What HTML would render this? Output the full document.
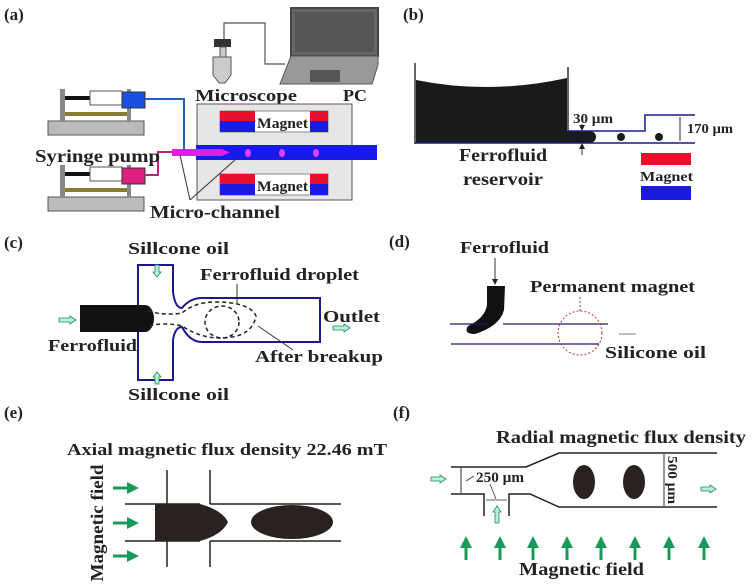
<!DOCTYPE html>
<html><head><meta charset="utf-8"><style>
html,body{margin:0;padding:0;background:#fff}
svg{display:block}
text{font-family:"Liberation Serif",serif;fill:#222;font-weight:bold}
</style></head><body>
<svg width="752" height="588" viewBox="0 0 752 588" xmlns="http://www.w3.org/2000/svg">
<defs>
<marker id="ah" markerWidth="6" markerHeight="6" refX="5" refY="3" orient="auto"><path d="M0,0 L6,3 L0,6z" fill="#222"/></marker>
<marker id="gh" markerWidth="4" markerHeight="4" refX="2" refY="2" orient="auto"><path d="M0,0 L4,2 L0,4z" fill="#1a9a5a"/></marker>
</defs>
<!-- (a) -->
<text x="4" y="20" font-size="17">(a)</text>
<rect x="291" y="8" width="87" height="48" fill="#666" stroke="#444" stroke-width="2"/>
<rect x="295" y="12" width="79" height="40" fill="#555"/>
<path d="M291,56 L378,56 L378,65 L372,84 L280,84 Z" fill="#999" stroke="#555"/>
<rect x="310" y="70" width="30" height="12" fill="#555"/>
<rect x="214" y="39" width="17" height="8" fill="#333"/>
<rect x="220" y="47" width="6" height="10" fill="#ccc" stroke="#555"/>
<path d="M213,57 L231,57 L231,75 L225,83 L219,83 L213,75Z" fill="#ccc" stroke="#555"/>
<polyline points="224,39 224,23 265,23 265,64 285,64" fill="none" stroke="#555" stroke-width="1.2"/>
<text x="195" y="101" font-size="17" textLength="102" lengthAdjust="spacingAndGlyphs">Microscope</text>
<text x="343" y="101" font-size="17" textLength="24" lengthAdjust="spacingAndGlyphs">PC</text>
<rect x="197" y="104" width="155" height="96" fill="#e6e6e6" stroke="#555"/>
<rect x="220" y="111" width="108" height="21" fill="#fff" stroke="#888"/>
<rect x="220" y="111" width="35" height="10" fill="#e8102a"/><rect x="220" y="121" width="35" height="11" fill="#1a1ae0"/>
<rect x="310" y="111" width="18" height="10" fill="#e8102a"/><rect x="310" y="121" width="18" height="11" fill="#1a1ae0"/>
<text x="257" y="128" font-size="15" textLength="51" lengthAdjust="spacingAndGlyphs">Magnet</text>
<rect x="220" y="174" width="108" height="21" fill="#fff" stroke="#888"/>
<rect x="220" y="174" width="35" height="10" fill="#e8102a"/><rect x="220" y="184" width="35" height="11" fill="#1a1ae0"/>
<rect x="310" y="174" width="18" height="10" fill="#e8102a"/><rect x="310" y="184" width="18" height="11" fill="#1a1ae0"/>
<text x="257" y="191" font-size="15" textLength="51" lengthAdjust="spacingAndGlyphs">Magnet</text>
<rect x="196" y="145" width="181" height="15" fill="#1a1ae8"/>
<ellipse cx="248" cy="153" rx="3" ry="4" fill="#e040ff"/><ellipse cx="282" cy="153" rx="3" ry="4" fill="#e040ff"/><ellipse cx="316" cy="153" rx="3" ry="4" fill="#e040ff"/>
<path d="M172,149 L222,149 L230,152.5 L222,156 L172,156Z" fill="#e020e0"/>
<g>
<rect x="48" y="121" width="96" height="14" fill="#bbb" stroke="#555"/>
<rect x="60" y="89" width="5" height="32" fill="#888"/><rect x="127" y="89" width="4" height="32" fill="#888"/>
<rect x="65" y="112" width="62" height="4" fill="#8a7a30"/>
<rect x="65" y="96" width="55" height="4" fill="#111"/>
<rect x="90" y="91" width="32" height="14" fill="#fff" stroke="#555"/>
<rect x="122" y="92" width="23" height="16" fill="#1a50e0" stroke="#333"/>
</g>
<g>
<rect x="48" y="197" width="96" height="14" fill="#bbb" stroke="#555"/>
<rect x="60" y="165" width="5" height="32" fill="#888"/><rect x="127" y="165" width="4" height="32" fill="#888"/>
<rect x="65" y="188" width="62" height="4" fill="#8a7a30"/>
<rect x="65" y="172" width="55" height="4" fill="#111"/>
<rect x="90" y="167" width="32" height="14" fill="#fff" stroke="#555"/>
<rect x="122" y="168" width="23" height="16" fill="#e02080" stroke="#333"/>
</g>
<polyline points="145,99 184,99 184,150" fill="none" stroke="#2060c0" stroke-width="2"/>
<polyline points="145,175 158,175 158,152 172,152" fill="none" stroke="#c02080" stroke-width="2"/>
<text x="35" y="162" font-size="18" textLength="125" lengthAdjust="spacingAndGlyphs">Syringe pump</text>
<text x="150" y="218" font-size="18" textLength="130" lengthAdjust="spacingAndGlyphs">Micro-channel</text>
<line x1="190" y1="200" x2="180" y2="155" stroke="#333"/><line x1="190" y1="200" x2="236" y2="159" stroke="#333"/>
<!-- (b) -->
<text x="403" y="20" font-size="17">(b)</text>
<path d="M416,80 Q490,95 567,78 L567,131 L590,131 A6,6 0 0 1 590,143 L416,143Z" fill="#1a1a1a"/>
<line x1="415" y1="63" x2="415" y2="144" stroke="#333" stroke-width="1.5"/>
<line x1="568" y1="67" x2="568" y2="131" stroke="#333" stroke-width="1.5"/>
<polyline points="568,131 645,131 645,115 695,115" fill="none" stroke="#1a1a8a" stroke-width="1.5"/>
<line x1="415" y1="143" x2="695" y2="143" stroke="#1a1a8a" stroke-width="1.5"/>
<circle cx="621" cy="137" r="4" fill="#1a1a1a"/><circle cx="659" cy="137" r="4" fill="#1a1a1a"/>
<text x="573" y="123" font-size="14" textLength="40" lengthAdjust="spacingAndGlyphs">30 µm</text>
<line x1="582" y1="124" x2="582" y2="130" stroke="#333" marker-end="url(#ah)"/>
<line x1="582" y1="155" x2="582" y2="144" stroke="#333" marker-end="url(#ah)"/>
<line x1="680" y1="117" x2="680" y2="141" stroke="#333"/>
<text x="687" y="133" font-size="14" textLength="46" lengthAdjust="spacingAndGlyphs">170 µm</text>
<rect x="641" y="153" width="50" height="12" fill="#e8102a"/>
<text x="640" y="181" font-size="14" textLength="53" lengthAdjust="spacingAndGlyphs">Magnet</text>
<rect x="641" y="186" width="50" height="14" fill="#1a1ae0"/>
<text x="459" y="161" font-size="18" textLength="88" lengthAdjust="spacingAndGlyphs">Ferrofluid</text>
<text x="463" y="185" font-size="18" textLength="80" lengthAdjust="spacingAndGlyphs">reservoir</text>
<!-- (c) -->
<text x="4" y="248" font-size="17">(c)</text>
<path d="M138,305 L138,265 L173,265 L173,292 Q175,308 182,308 Q190,298 202,298 L320,298 L320,342 L202,342 Q190,342 182,327 Q175,327 173,340 L173,380 L138,380 L138,332" fill="none" stroke="#1a1a8a" stroke-width="2"/>
<path d="M80,305 L145,305 A9,13.5 0 0 1 145,332 L80,332Z" fill="#111"/>
<g fill="none" stroke="#222" stroke-width="1.5" stroke-dasharray="4,3">
<path d="M148,311 Q165,316 182,313 Q195,302 215,302 Q250,302 256,316 Q252,338 220,338 Q200,338 182,326 Q165,322 148,326"/>
<ellipse cx="222" cy="322" rx="17" ry="16"/>
</g>
<line x1="237" y1="284" x2="237" y2="304" stroke="#333"/>
<line x1="258" y1="326" x2="293" y2="350" stroke="#333"/>
<text x="128" y="254" font-size="17" textLength="101" lengthAdjust="spacingAndGlyphs">Sillcone oil</text>
<text x="200" y="280" font-size="17" textLength="159" lengthAdjust="spacingAndGlyphs">Ferrofluid droplet</text>
<text x="323" y="322" font-size="17" textLength="57" lengthAdjust="spacingAndGlyphs">Outlet</text>
<text x="48" y="351" font-size="17" textLength="89" lengthAdjust="spacingAndGlyphs">Ferrofluid</text>
<text x="255" y="362" font-size="17" textLength="128" lengthAdjust="spacingAndGlyphs">After breakup</text>
<text x="128" y="400" font-size="17" textLength="101" lengthAdjust="spacingAndGlyphs">Sillcone oil</text>
<g fill="#b8f0d8" stroke="#1a8a5a" stroke-width="0.8">
<path d="M59,318 L70,318 L70,316 L76,320 L70,324 L70,322 L59,322Z"/>
<path d="M333,326 L344,326 L344,324 L350,328 L344,332 L344,330 L333,330Z"/>
<path d="M155,265 L155,272 L153,272 L157,277 L161,272 L159,272 L159,265Z"/>
<path d="M155,384 L155,377 L153,377 L157,372 L161,377 L159,377 L159,384Z"/>
</g>
<!-- (d) -->
<text x="389" y="247" font-size="17">(d)</text>
<text x="460" y="253" font-size="17" textLength="89" lengthAdjust="spacingAndGlyphs">Ferrofluid</text>
<line x1="495" y1="258" x2="495" y2="284" stroke="#333" marker-end="url(#ah)"/>
<path d="M487,286 L505,286 L504,310 Q500,326 475,334 Q463,334 468,326 Q485,318 487,305Z" fill="#111"/>
<line x1="450" y1="324" x2="488" y2="324" stroke="#1a1a6a" stroke-width="1.2"/>
<line x1="503" y1="324" x2="608" y2="324" stroke="#1a1a6a" stroke-width="1.2"/>
<line x1="451" y1="344" x2="599" y2="344" stroke="#1a1a6a" stroke-width="1.2"/>
<circle cx="580" cy="333" r="22" fill="none" stroke="#c03040" stroke-dasharray="2,2"/>
<line x1="580" y1="311" x2="580" y2="295" stroke="#c03040" stroke-dasharray="2,2"/>
<text x="530" y="292" font-size="17" textLength="165" lengthAdjust="spacingAndGlyphs">Permanent magnet</text>
<line x1="636" y1="334" x2="619" y2="334" stroke="#555" stroke-width="0.8"/>
<text x="605" y="358" font-size="17" textLength="101" lengthAdjust="spacingAndGlyphs">Silicone oil</text>
<!-- (e) -->
<text x="4" y="418" font-size="17">(e)</text>
<text x="67" y="455" font-size="17" textLength="320" lengthAdjust="spacingAndGlyphs">Axial magnetic flux density 22.46 mT</text>
<text transform="translate(103,523) rotate(-90)" font-size="18" text-anchor="middle" textLength="117" lengthAdjust="spacingAndGlyphs">Magnetic field</text>
<g stroke="#1a9a5a" stroke-width="3" marker-end="url(#gh)">
<line x1="113" y1="488" x2="133" y2="488"/><line x1="113" y1="523" x2="133" y2="523"/><line x1="113" y1="556" x2="133" y2="556"/>
</g>
<g stroke="#222" stroke-width="1.5">
<line x1="167" y1="470" x2="167" y2="567"/><line x1="210" y1="470" x2="210" y2="504"/><line x1="210" y1="541" x2="210" y2="567"/>
<line x1="125" y1="504" x2="200" y2="504"/><line x1="210" y1="504" x2="341" y2="504"/>
<line x1="125" y1="541" x2="200" y2="541"/><line x1="210" y1="541" x2="341" y2="541"/>
</g>
<path d="M155,504 L200,504 Q222,510 228,522 Q222,535 200,541 L155,541Z" fill="#2a2220"/>
<ellipse cx="292" cy="522" rx="41" ry="17" fill="#2a2220"/>
<!-- (f) -->
<text x="393" y="418" font-size="17">(f)</text>
<text x="496" y="443" font-size="18" textLength="250" lengthAdjust="spacingAndGlyphs">Radial magnetic flux density</text>
<g fill="none" stroke="#222" stroke-width="1.5">
<polyline points="451,467 526,467 559,453 717,453"/>
<polyline points="451,494 484,494 484,516"/>
<polyline points="509,516 509,494 530,494 559,507 717,507"/>
</g>
<line x1="461" y1="468" x2="461" y2="493" stroke="#333"/>
<line x1="466" y1="481" x2="474" y2="476" stroke="#333" stroke-width="0.8"/>
<text x="476" y="482" font-size="15" textLength="48" lengthAdjust="spacingAndGlyphs">250 µm</text>
<line x1="490" y1="484" x2="496" y2="499" stroke="#333" stroke-width="0.8"/>
<line x1="486" y1="500" x2="507" y2="500" stroke="#333" stroke-width="0.8"/>
<ellipse cx="584" cy="482" rx="11" ry="17" fill="#2a2220"/><ellipse cx="634" cy="482" rx="11" ry="17" fill="#2a2220"/>
<line x1="664" y1="454" x2="664" y2="506" stroke="#333"/>
<text transform="translate(668,456) rotate(90)" font-size="14" textLength="48" lengthAdjust="spacingAndGlyphs">500 µm</text>
<g fill="#b8f0d8" stroke="#1a8a5a" stroke-width="0.8">
<path d="M431,477 L440,477 L440,475 L446,479 L440,483 L440,481 L431,481Z"/>
<path d="M701,487 L710,487 L710,485 L716,489 L710,493 L710,491 L701,491Z"/>
<path d="M495,523 L495,512 L493,512 L497,506 L501,512 L499,512 L499,523Z"/>
</g>
<g stroke="#1a9a5a" stroke-width="3" marker-end="url(#gh)">
<line x1="466" y1="560" x2="466" y2="542"/><line x1="500" y1="560" x2="500" y2="542"/><line x1="533" y1="560" x2="533" y2="542"/><line x1="567" y1="560" x2="567" y2="542"/><line x1="601" y1="560" x2="601" y2="542"/><line x1="635" y1="560" x2="635" y2="542"/><line x1="669" y1="560" x2="669" y2="542"/><line x1="704" y1="560" x2="704" y2="542"/>
</g>
<text x="519" y="575" font-size="18" textLength="125" lengthAdjust="spacingAndGlyphs">Magnetic field</text>
</svg>
</body></html>
